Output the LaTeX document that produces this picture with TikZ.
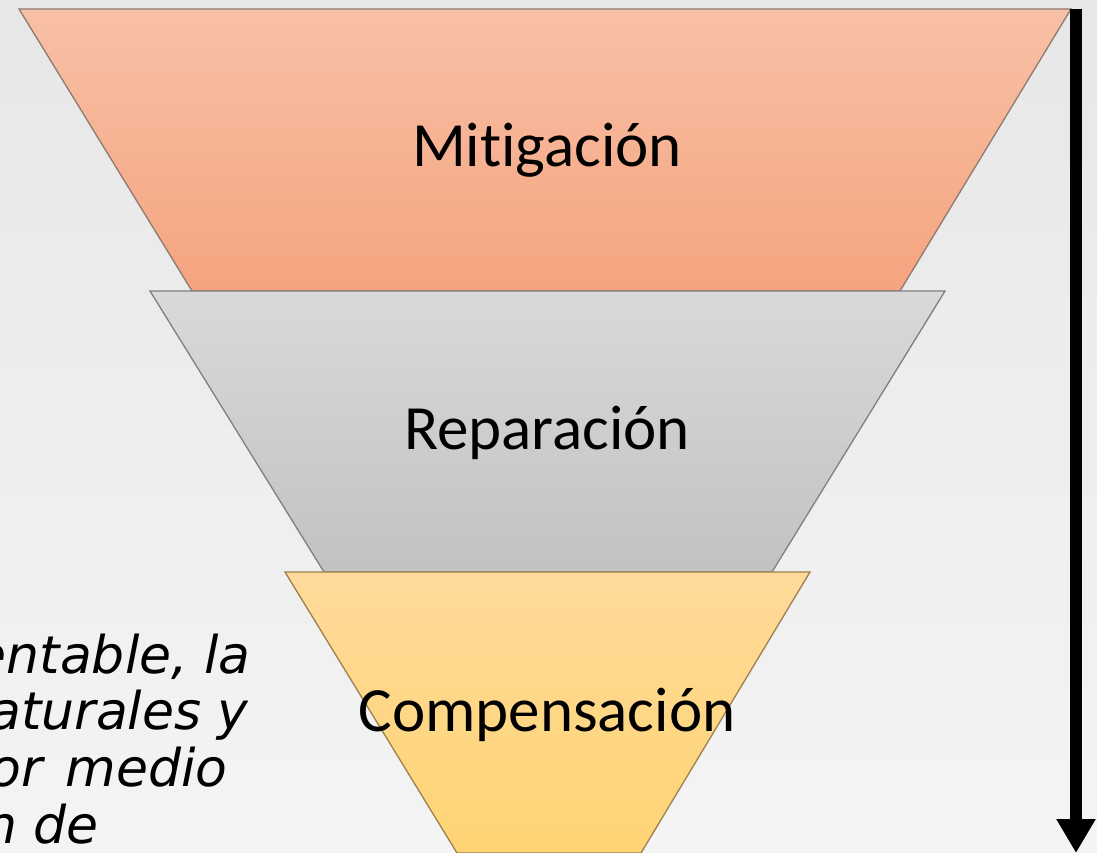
\documentclass[tikz,border=0pt]{standalone}
\usepackage{fontspec}
\setmainfont{Carlito}[Ligatures={NoCommon}]
\newfontfamily\verdanalike{DejaVu Sans}
\usetikzlibrary{arrows.meta}
\definecolor{bgtop}{HTML}{E7E7E7}
\definecolor{bgbot}{HTML}{F4F4F4}
\definecolor{orTop}{HTML}{F8C0A6}
\definecolor{orBot}{HTML}{F5A47F}
\definecolor{orEdge}{HTML}{8C7A70}
\definecolor{grTop}{HTML}{D9D9D9}
\definecolor{grBot}{HTML}{C2C2C2}
\definecolor{grEdge}{HTML}{7F7F7F}
\definecolor{yeTop}{HTML}{FFDA9A}
\definecolor{yeBot}{HTML}{FED473}
\definecolor{yeEdge}{HTML}{9C8050}
\tikzset{
  level/.style={line width=1.3pt, line join=miter},
  lbl/.style={font=\fontsize{63}{75}\selectfont, text=black, anchor=base, inner sep=0pt},
  side/.style={font=\verdanalike\itshape\fontsize{52}{62}\selectfont, text=black, anchor=base east, inner sep=0pt},
  bigarrow/.style={line width=12.5pt, -{Triangle[width=37pt,length=34pt]}}
}
\begin{document}
\begin{tikzpicture}[x=1pt,y=-1pt]
\useasboundingbox (0,0) rectangle (1097,853);
\clip (0,0) rectangle (1097,853);
\shade[top color=bgtop, bottom color=bgbot] (0,0) rectangle (1097,853);
% funnel levels
\path[level, top color=orTop, bottom color=orBot, draw=orEdge]
  (19,9) -- (1071,9) -- (900,291) -- (192,291) -- cycle;
\path[level, top color=grTop, bottom color=grBot, draw=grEdge]
  (150,291) -- (945,291) -- (772,572) -- (324,572) -- cycle;
\path[level, top color=yeTop, bottom color=yeBot, draw=yeEdge]
  (285,572) -- (810,572) -- (641,853) -- (457,853) -- cycle;
% labels
\node[lbl] (mit) at (547,167) {Mitigación};
\node[lbl] (rep) at (547,449) {Reparación};
\node[lbl] (com) at (547,731) {Compensación};
% side text (cut at the left edge, as in the reference)
\node[side] (s1) at (251,673) {entable, la};
\node[side] (s2) at (249,729) {aturales y};
\node[side] (s3) at (228,786) {or\hspace{0.45em}medio};
\node[side] (s4) at (99,843) {n de};
% arrow
\coordinate (arrtop) at (1076,9);
\coordinate (arrbot) at (1076,853);
\draw[bigarrow] (arrtop) -- (arrbot);
\end{tikzpicture}
\end{document}
